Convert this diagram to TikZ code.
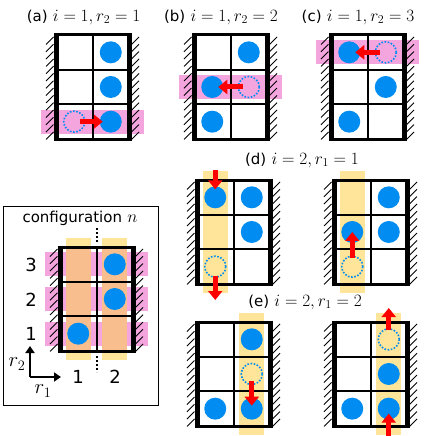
\documentclass[tikz,border=0pt]{standalone}
\usepackage{fontspec}
\setsansfont{DejaVu Sans}
\usetikzlibrary{arrows.meta}

\definecolor{bandpink}{RGB}{245,165,222}
\definecolor{bandyellow}{RGB}{255,229,153}
\definecolor{bandorange}{RGB}{248,190,142}
\definecolor{ballblue}{RGB}{0,140,240}

\newcommand{\lab}{\sffamily\fontsize{15}{18}\selectfont}

\tikzset{
  ball/.style={circle, fill=ballblue, minimum size=22pt, inner sep=0pt},
  ghost/.style={circle, draw=ballblue, line width=1.6pt, dash pattern=on 1.6pt off 1.6pt, minimum size=21pt, inner sep=0pt},
  mv/.style={draw=red, line width=5pt, -{Triangle[width=14pt,length=9pt]}, shorten <=6pt, shorten >=6pt},
  hatch/.style={line width=0.9pt},
  title/.style={font=\fontsize{17.5}{21}\selectfont, inner sep=0pt},
  big/.style={font=\fontsize{20}{24}\selectfont, inner sep=0pt},
  idx/.style={font=\sffamily\fontsize{18}{22}\selectfont, inner sep=0pt}
}

% grid of 2 columns x 3 rows, walls left and right; #1 name, (#2,#3) top left
% cell coordinates (#1-cr): c = column r1, r = row r2 (from bottom)
\newcommand{\cellgrid}[3]{%
  \draw[line width=2pt] (#2+36.5,#3) -- (#2+36.5,#3+104);
  \draw[line width=2pt] (#2,#3+34.67) -- (#2+73,#3+34.67);
  \draw[line width=2pt] (#2,#3+69.33) -- (#2+73,#3+69.33);
  \draw[line width=3pt] (#2,#3) -- (#2+73,#3);
  \draw[line width=3pt] (#2,#3+104) -- (#2+73,#3+104);
  \draw[line width=5pt] (#2,#3-1.5) -- (#2,#3+105.5);
  \draw[line width=5pt] (#2+73,#3-1.5) -- (#2+73,#3+105.5);
  \foreach \k in {0,...,13} {
    \draw[hatch] (#2-10,#3+7.3*\k+9.5) -- (#2-2.5,#3+7.3*\k+2);
    \draw[hatch] (#2+75.5,#3+7.3*\k+9.5) -- (#2+83,#3+7.3*\k+2);
  }
  \foreach \cc in {1,2} {
    \foreach \rr in {1,2,3} {
      \coordinate (#1-\cc\rr) at (#2+18.25+36.5*\cc-36.5, #3+121.33-34.67*\rr);
    }
  }
}
% pink band along row #3 of a grid at (#1,#2)
\newcommand{\rowband}[3]{%
  \fill[bandpink] (#1-15,#2+121.33-34.67*#3-12) rectangle (#1+88,#2+121.33-34.67*#3+12);
}
% yellow band along column #3 of a grid at (#1,#2)
\newcommand{\colband}[3]{%
  \fill[bandyellow] (#1+18.25+36.5*#3-36.5-12.5,#2-9) rectangle (#1+18.25+36.5*#3-36.5+12.5,#2+113);
}

\begin{document}
\begin{tikzpicture}[x=1pt,y=-1pt]
  \useasboundingbox (0,0) rectangle (428,436);

  % (a) i=1, r2=1
  \node[title] (ta) at (83.5,17) {{\lab(a)} $i=1,r_2=1$};
  \rowband{56}{35}{1}
  \cellgrid{a}{56}{35}
  \node[ball] (a23) at (a-23) {};
  \node[ball] (a22) at (a-22) {};
  \node[ball] (a21) at (a-21) {};
  \node[ghost] (a11) at (a-11) {};
  \draw[mv, shorten >=8pt] (a11.center) -- (a21.center);

  % (b) i=1, r2=2
  \node[title] (tb) at (221,17) {{\lab(b)} $i=1,r_2=2$};
  \rowband{194}{35}{2}
  \cellgrid{b}{194}{35}
  \node[ball] (b23) at (b-23) {};
  \node[ball] (b12) at (b-12) {};
  \node[ball] (b11) at (b-11) {};
  \node[ghost] (b22) at (b-22) {};
  \draw[mv] (b22.center) -- (b12.center);

  % (c) i=1, r2=3
  \node[title] (tc) at (358,17) {{\lab(c)} $i=1,r_2=3$};
  \rowband{331}{35}{3}
  \cellgrid{c}{331}{35}
  \node[ball] (c13) at (c-13) {};
  \node[ball] (c22) at (c-22) {};
  \node[ball] (c11) at (c-11) {};
  \node[ghost] (c23) at (c-23) {};
  \draw[mv] (c23.center) -- (c13.center);

  % configuration n
  \draw[line width=1pt] (3,206) rectangle (158,405);
  \node[title] (tn) at (80,218) {{\lab configuration} $n$};
  \foreach \rr in {1,2,3} {\rowband{60}{247}{\rr}}
  \foreach \cc in {1,2} {\colband{60}{247}{\cc}}
  \fill[bandorange] (65.75,247) rectangle (90.75,351);
  \fill[bandorange] (102.25,247) rectangle (127.25,351);
  \cellgrid{n}{60}{247}
  \node[ball] (n23) at (n-23) {};
  \node[ball] (n22) at (n-22) {};
  \node[ball] (n11) at (n-11) {};
  \draw[line width=2pt, dash pattern=on 2pt off 2pt] (96.5,228) -- (96.5,243);
  \draw[line width=2pt, dash pattern=on 2pt off 2pt] (96.5,356) -- (96.5,372);
  \node[idx] (l3) at (31,265) {3};
  \node[idx] (l2) at (31,300) {2};
  \node[idx] (l1) at (31,334) {1};
  \node[idx] (k1) at (78,377) {1};
  \node[idx] (k2) at (115,377) {2};
  \coordinate (o) at (30,377);
  \coordinate (o2) at (30,346);
  \coordinate (o1) at (61,377);
  \draw[line width=1.8pt, -{Triangle[width=9pt,length=7pt]}] (o) -- (o2);
  \draw[line width=1.8pt, -{Triangle[width=9pt,length=7pt]}] (o) -- (o1);
  \node[big] (r2) at (17,364) {$r_2$};
  \node[big] (r1) at (43,391) {$r_1$};

  % (d) i=2, r1=1
  \node[title] (td) at (302,160) {{\lab(d)} $i=2,r_1=1$};
  \colband{197}{180}{1}
  \cellgrid{d}{197}{180}
  \node[ball] (d13) at (d-13) {};
  \node[ball] (d23) at (d-23) {};
  \node[ball] (d22) at (d-22) {};
  \node[ghost] (d11) at (d-11) {};
  \coordinate (dtop) at (215.25,170);
  \coordinate (dbot) at (215.25,300);
  \draw[mv, shorten <=0pt, shorten >=8pt] (dtop) -- (d13.center);
  \draw[mv, shorten <=9pt, shorten >=0pt] (d11.center) -- (dbot);

  \colband{334}{180}{1}
  \cellgrid{f}{334}{180}
  \node[ball] (f23) at (f-23) {};
  \node[ball] (f12) at (f-12) {};
  \node[ball] (f22) at (f-22) {};
  \node[ghost] (f11) at (f-11) {};
  \draw[mv, shorten <=9pt, shorten >=0pt] (f11.center) -- (f12.center);

  % (e) i=2, r1=2
  \node[title] (te) at (305,302) {{\lab(e)} $i=2,r_1=2$};
  \colband{197}{322}{2}
  \cellgrid{e}{197}{322}
  \node[ball] (e23) at (e-23) {};
  \node[ball] (e11) at (e-11) {};
  \node[ball] (e21) at (e-21) {};
  \node[ghost] (e22) at (e-22) {};
  \draw[mv, shorten <=7pt, shorten >=3pt] (e22.center) -- (e21.center);

  \colband{334}{322}{2}
  \cellgrid{g}{334}{322}
  \node[ball] (g22) at (g-22) {};
  \node[ball] (g11) at (g-11) {};
  \node[ball] (g21) at (g-21) {};
  \node[ghost] (g23) at (g-23) {};
  \coordinate (gtop) at (388.75,308);
  \coordinate (gbot) at (388.75,437);
  \draw[mv, shorten <=9pt, shorten >=0pt] (g23.center) -- (gtop);
  \draw[mv, shorten <=0pt, shorten >=5pt] (gbot) -- (g21.center);
\end{tikzpicture}
\end{document}
